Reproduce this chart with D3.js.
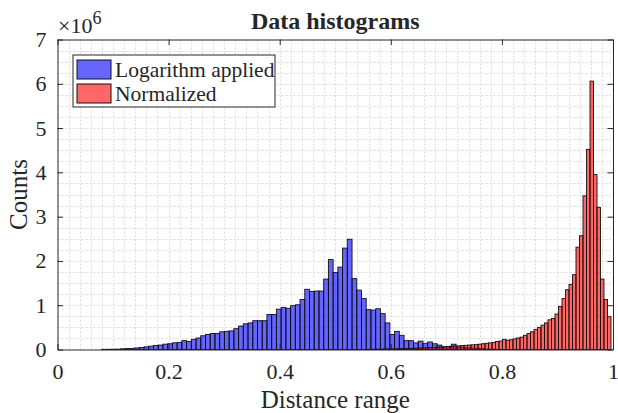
<!DOCTYPE html>
<html>
<head>
<script src="https://d3js.org/d3.v7.min.js"></script>
<style>
  body { margin: 0; background: #fff; }
  text { font-family: "Liberation Serif", "Times New Roman", serif; fill: #262626; }
</style>
</head>
<body>
<div id="chart"></div>
<script>
// histogram bins (counts in millions), 100 bins each
var blueStart = 0.0792, blueWidth = 0.00851;
var blueCounts = [
  0.003, 0.004, 0.006, 0.008, 0.015, 0.02, 0.025, 0.035, 0.045, 0.06,
  0.075, 0.09, 0.10, 0.12, 0.13, 0.15, 0.16, 0.20, 0.18, 0.23,
  0.26, 0.31, 0.34, 0.36, 0.36, 0.40, 0.41, 0.42, 0.47, 0.53,
  0.58, 0.60, 0.65, 0.65, 0.65, 0.79, 0.79, 0.91, 0.95, 0.93,
  0.99, 1.01, 1.13, 1.36, 1.31, 1.32, 1.32, 1.59, 2.03, 1.74,
  1.86, 2.29, 2.49, 1.60, 1.34, 1.15, 0.90, 0.89, 0.92, 0.81,
  0.60, 0.34, 0.41, 0.32, 0.20, 0.20, 0.15, 0.19, 0.14, 0.17,
  0.13, 0.10, 0.06, 0.07, 0.12, 0.06, 0.05, 0.04, 0.035, 0.03,
  0.02, 0.01, 0.005, 0.003, 0.002, 0, 0, 0, 0, 0,
  0, 0, 0, 0, 0, 0, 0, 0, 0, 0
];
var redStart = 0.3664, redWidth = 0.0063;
var redCounts = [
  0, 0, 0, 0, 0, 0, 0, 0, 0, 0,
  0, 0, 0, 0, 0, 0, 0, 0, 0, 0,
  0, 0, 0, 0, 0, 0, 0, 0, 0, 0,
  0.003, 0.004, 0.005, 0.006, 0.008, 0.009, 0.011, 0.013, 0.015, 0.017,
  0.019, 0.022, 0.024, 0.027, 0.030, 0.033, 0.036, 0.040, 0.044, 0.048,
  0.052, 0.057, 0.062, 0.067, 0.072, 0.077, 0.082, 0.088, 0.094, 0.100,
  0.105, 0.11, 0.12, 0.13, 0.14, 0.15, 0.16, 0.18, 0.19, 0.23,
  0.21, 0.22, 0.24, 0.26, 0.28, 0.32, 0.36, 0.40, 0.45, 0.50,
  0.55, 0.60, 0.67, 0.70, 0.80, 0.97, 1.15, 1.35, 1.47, 1.69,
  2.31, 2.57, 3.47, 4.52, 6.06, 3.95, 3.21, 1.59, 1.13, 0.74
];
var xTicks = [0, 0.2, 0.4, 0.6, 0.8, 1];
var xTickLabels = ["0", "0.2", "0.4", "0.6", "0.8", "1"];
var yTicks = [0, 1, 2, 3, 4, 5, 6, 7];
var seriesNames = ["Logarithm applied", "Normalized"];
var seriesColors = ["#0000ff", "#ff0000"];

var W = 618, H = 413;
var m = { left: 57.5, right: 613, top: 39.5, bottom: 349.5 };

var svg = d3.select("#chart").append("svg")
    .attr("width", W).attr("height", H);

var x = d3.scaleLinear().domain([0, 1]).range([m.left, m.right]);
var y = d3.scaleLinear().domain([0, 7e6]).range([m.bottom, m.top]);

// minor + major grid, dotted
var grid = svg.append("g").attr("stroke", "#dadada").attr("stroke-width", 1)
    .attr("stroke-dasharray", "2,2");
grid.selectAll("line.gx").data(d3.range(1, 50)).join("line")
    .attr("x1", function (i) { return Math.round(x(i * 0.02)) + 0.5; })
    .attr("x2", function (i) { return Math.round(x(i * 0.02)) + 0.5; })
    .attr("y1", m.top).attr("y2", m.bottom);
grid.selectAll("line.gy").data(d3.range(1, 28)).join("line")
    .attr("y1", function (i) { return Math.round(y(i * 0.25e6)) + 0.5; })
    .attr("y2", function (i) { return Math.round(y(i * 0.25e6)) + 0.5; })
    .attr("x1", m.left).attr("x2", m.right);

function bins(start, width, counts) {
  return counts.map(function (c, i) {
    return { x0: start + i * width, x1: start + (i + 1) * width, c: c * 1e6 };
  }).filter(function (d) { return d.c > 0; });
}

function drawHist(data, color) {
  svg.append("g").selectAll("rect").data(data).join("rect")
      .attr("x", function (d) { return x(d.x0); })
      .attr("width", function (d) { return x(d.x1) - x(d.x0); })
      .attr("y", function (d) { return y(d.c); })
      .attr("height", function (d) { return y(0) - y(d.c); })
      .attr("fill", color)
      .attr("fill-opacity", 0.6)
      .attr("stroke", "#111")
      .attr("stroke-width", 0.9);
}
drawHist(bins(blueStart, blueWidth, blueCounts), seriesColors[0]);
drawHist(bins(redStart, redWidth, redCounts), seriesColors[1]);

// axes (inward ticks, box)
var tickLen = 5.5;
svg.append("g").attr("transform", "translate(0," + m.bottom + ")")
    .call(d3.axisBottom(x).tickValues(xTicks)
      .tickFormat(function (d, i) { return xTickLabels[i]; })
      .tickSize(-tickLen).tickSizeOuter(0).tickPadding(14));
svg.append("g").attr("transform", "translate(0," + m.top + ")")
    .call(d3.axisTop(x).tickValues(xTicks).tickFormat("")
      .tickSize(-tickLen).tickSizeOuter(0));
svg.append("g").attr("transform", "translate(" + m.left + ",0)")
    .call(d3.axisLeft(y).tickValues(yTicks.map(function (v) { return v * 1e6; }))
      .tickFormat(function (d) { return d / 1e6; })
      .tickSize(-tickLen).tickSizeOuter(0).tickPadding(11));
svg.append("g").attr("transform", "translate(" + m.right + ",0)")
    .call(d3.axisRight(y).tickValues(yTicks.map(function (v) { return v * 1e6; }))
      .tickFormat("").tickSize(-tickLen).tickSizeOuter(0));

svg.selectAll(".domain").attr("stroke", "#262626").attr("stroke-width", 1);
svg.selectAll(".tick line").attr("stroke", "#262626").attr("stroke-width", 1);
svg.selectAll(".tick text")
    .attr("font-family", "Liberation Serif, serif")
    .attr("font-size", 22).attr("fill", "#262626");

// exponent label
var expo = svg.append("text").attr("x", 58).attr("y", 33)
    .attr("font-size", 22);
expo.append("tspan").text("\u00d710");
expo.append("tspan").attr("font-size", 18).attr("dy", -9).text("6");

// title and axis labels
svg.append("text").attr("x", (m.left + m.right) / 2).attr("y", 29)
    .attr("text-anchor", "middle").attr("font-size", 24).attr("font-weight", "bold")
    .attr("fill", "#000")
    .text("Data histograms");
svg.append("text").attr("x", (m.left + m.right) / 2).attr("y", 408)
    .attr("text-anchor", "middle").attr("font-size", 25)
    .text("Distance range");
svg.append("text")
    .attr("transform", "translate(27," + (m.top + m.bottom) / 2 + ") rotate(-90)")
    .attr("text-anchor", "middle").attr("font-size", 25)
    .text("Counts");

// legend
var lg = svg.append("g").attr("transform", "translate(73,55)");
lg.append("rect").attr("width", 202).attr("height", 52)
    .attr("fill", "#fff").attr("stroke", "#262626").attr("stroke-width", 1);
seriesNames.forEach(function (name, i) {
  lg.append("rect").attr("x", 4).attr("y", 5 + i * 24).attr("width", 34).attr("height", 19)
      .attr("fill", seriesColors[i]).attr("fill-opacity", 0.6)
      .attr("stroke", "#111").attr("stroke-width", 1);
  lg.append("text").attr("x", 42).attr("y", 21.5 + i * 24)
      .attr("font-size", 21.5).attr("fill", "#000").text(name);
});
</script>
</body>
</html>
